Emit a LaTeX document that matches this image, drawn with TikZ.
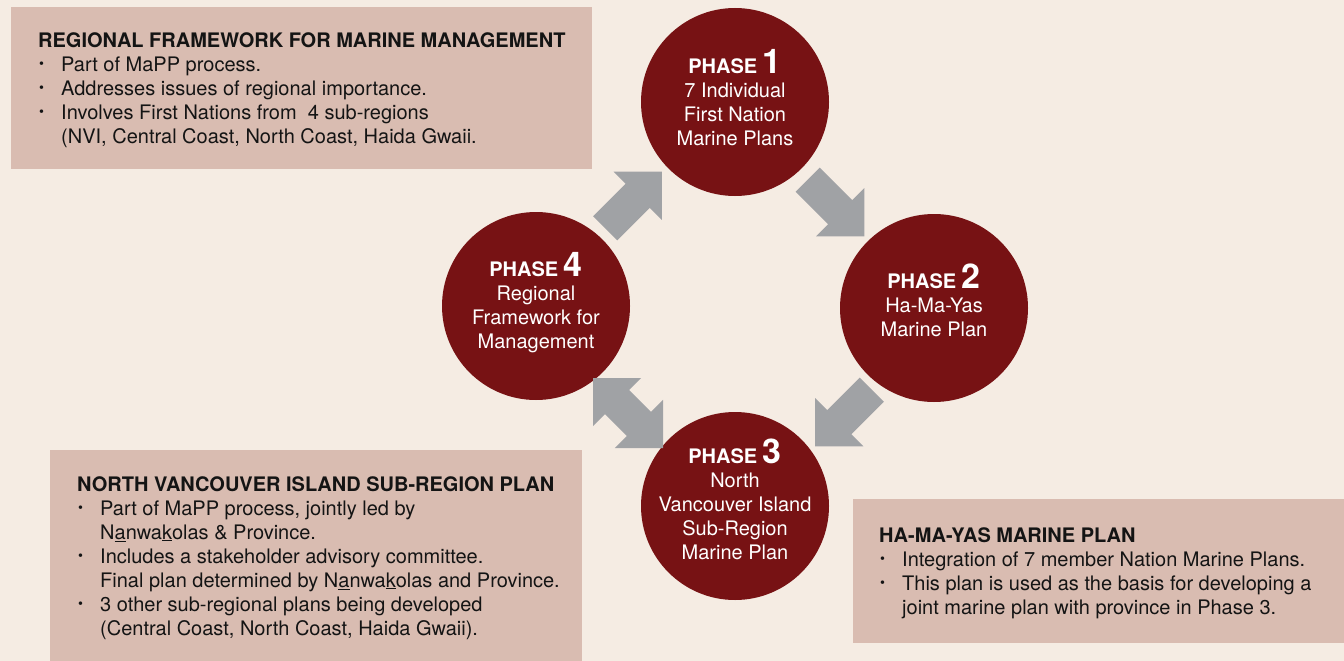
\documentclass[tikz,border=0pt]{standalone}
\usepackage{fontspec}
\setmainfont{TeX Gyre Heros}
\usetikzlibrary{positioning, calc}

\definecolor{cream}{HTML}{F5ECE3}
\definecolor{panelrose}{HTML}{D9BCB1}
\definecolor{phasered}{HTML}{771214}
\definecolor{arrowgray}{HTML}{A0A2A5}

\tikzset{
  phase/.style={circle, fill=phasered, minimum size=188pt, inner sep=0pt},
  phasetext/.style={anchor=north, align=center, text=white, inner sep=0pt,
    font=\fontsize{20}{24}\selectfont},
  panel/.style={fill=panelrose, anchor=north west, inner sep=0pt},
  paneltext/.style={anchor=north west, align=left, inner sep=0pt, text=black!92,
    font=\fontsize{20}{24}\selectfont},
  pics/onearrow/.style={code={
    \fill[arrowgray] (-40,-17) -- (6,-17) -- (6,-34) -- (40,0) -- (6,34) -- (6,17) -- (-40,17) -- cycle;
  }},
  pics/twoarrow/.style={code={
    \fill[arrowgray] (-49.5,0) -- (-15.5,-34) -- (-15.5,-17) -- (15.5,-17) -- (15.5,-34) -- (49.5,0)
      -- (15.5,34) -- (15.5,17) -- (-15.5,17) -- (-15.5,34) -- cycle;
  }}
}

\newcommand{\phasehead}[1]{\textbf{PHASE} {\fontsize{34}{24}\selectfont\textbf{#1}}}
\newcommand{\bulletitem}{\makebox[23pt][l]{\hspace{1pt}\raisebox{3pt}{\fontsize{14}{14}\selectfont\textbullet}}}
\newcommand{\itemgap}{\hspace*{23pt}}

\begin{document}
\begin{tikzpicture}[x=1pt, y=-1pt]
    \useasboundingbox (0,0) rectangle (1344,661);
    \fill[cream] (0,0) rectangle (1344,661);

    % side panels
    \node[panel, minimum width=581pt, minimum height=162pt] (rfpanel) at (11,7) {};
    \node[panel, minimum width=532pt, minimum height=211pt] (nvipanel) at (50,450) {};
    \node[panel, minimum width=491pt, minimum height=144pt] (hmypanel) at (853,499) {};

    \node[paneltext] (rftext) at (38,32) {\textbf{REGIONAL FRAMEWORK FOR MARINE MANAGEMENT}\\
        \bulletitem Part of MaPP process.\\
        \bulletitem Addresses issues of regional importance.\\
        \bulletitem Involves First Nations from~ 4 sub-regions\\
        \itemgap (NVI, Central Coast, North Coast, Haida Gwaii.};
    \node[paneltext] (nvitext) at (77,476) {\textbf{NORTH VANCOUVER ISLAND SUB-REGION PLAN}\\
        \bulletitem Part of MaPP process, jointly led by\\
        \itemgap N\underline{a}nwa\underline{k}olas \& Province.\\
        \bulletitem Includes a stakeholder advisory committee.\\
        \itemgap Final plan determined by N\underline{a}nwa\underline{k}olas and Province.\\
        \bulletitem 3 other sub-regional plans being developed\\
        \itemgap (Central Coast, North Coast, Haida Gwaii).};
    \node[paneltext] (hmytext) at (879,527) {\textbf{HA-MA-YAS MARINE PLAN}\\
        \bulletitem Integration of 7 member Nation Marine Plans.\\
        \bulletitem This plan is used as the basis for developing a\\
        \itemgap joint marine plan with province in Phase 3.};

    % the four phases
    \node[phase] (p1) at (735,102) {};
    \node[phase] (p2) at (934,308) {};
    \node[phase] (p3) at (735,506) {};
    \node[phase] (p4) at (536,306) {};

    \node[phasetext] (t1) at (735,49) {\phasehead{1}\\7 Individual\\First Nation\\Marine Plans};
    \node[phasetext] (t2) at (934,264) {\phasehead{2}\\Ha-Ma-Yas\\Marine Plan};
    \node[phasetext] (t3) at (735,439) {\phasehead{3}\\North\\Vancouver Island\\Sub-Region\\Marine Plan};
    \node[phasetext] (t4) at (536,252) {\phasehead{4}\\Regional\\Framework for\\Management};

    % block arrows between phases
    \pic[rotate=45] at ($(p4)!0.5!(p1)+(-2,-4)$) {onearrow};
    \pic[rotate=-45] at ($(p1)!0.5!(p2)+(1.5,3)$) {onearrow};
    \pic[rotate=-135] at ($(p2)!0.5!(p3)+(9,11)$) {onearrow};
    \pic[rotate=-45] at ($(p4)!0.5!(p3)+(-7.5,7)$) {twoarrow};
\end{tikzpicture}
\end{document}
